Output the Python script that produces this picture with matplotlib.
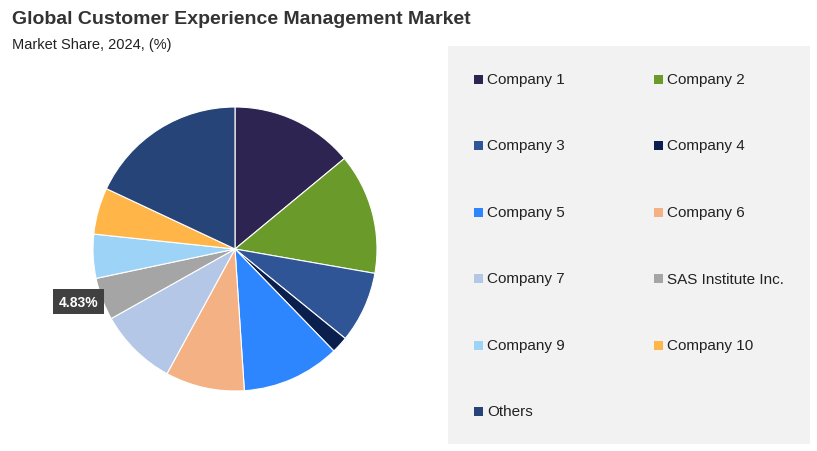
import matplotlib.pyplot as plt
from matplotlib.patches import Rectangle

labels = ["Company 1", "Company 2", "Company 3", "Company 4", "Company 5", "Company 6",
          "Company 7", "SAS Institute Inc.", "Company 9", "Company 10", "Others"]
shares = [14.0, 13.75, 8.1, 1.9, 11.2, 9.0, 8.9, 4.83, 5.0, 5.3, 18.02]
colors = ["#2E2452", "#6A9A2A", "#2F5597", "#0B1F4F", "#2E86FF", "#F4B183",
          "#B4C7E7", "#A5A5A5", "#9DD3F7", "#FFB547", "#264478"]

W, H = 817, 452
fig = plt.figure(figsize=(W / 100, H / 100), dpi=100)
plt.rcParams['font.family'] = ['Liberation Sans', 'DejaVu Sans']

fig.text(12 / W, 1 - 20 / H, "Global Customer Experience Management Market",
         fontsize=14, fontweight='bold', color='#333333', va='center')
fig.text(12 / W, 1 - 45 / H, "Market Share, 2024, (%)", fontsize=10.5, color='#222222', va='center')

# pie
r = 142
ax = fig.add_axes([(235 - r) / W, (H - 250 - r) / H, 2 * r / W, 2 * r / H])
wedges, _ = ax.pie(shares, colors=colors, startangle=90, counterclock=False,
                   wedgeprops=dict(edgecolor='white', linewidth=0.8))
ax.set_aspect('auto')
ax.set_xlim(-1, 1)
ax.set_ylim(-1, 1)
ax.set_axis_off()
ax.text(-1.1, -0.37, "4.83%", fontsize=10, fontweight='bold', color='white',
        ha='center', va='center', clip_on=False,
        bbox=dict(boxstyle='square,pad=0.4', fc='#404040', ec='none'))

# legend panel
fig.patches.append(Rectangle((448 / W, 1 - 445 / H), 362 / W, 398 / H,
                             transform=fig.transFigure, fc='#F2F2F2', ec='none', zorder=0))
for i, (lab, c) in enumerate(zip(labels, colors)):
    col, row = i % 2, i // 2
    x = (474 if col == 0 else 654) / W
    y = 1 - (80 + row * 66.5) / H
    fig.patches.append(Rectangle((x, y - 4.5 / H), 9 / W, 9 / H,
                                 transform=fig.transFigure, fc=c, ec='none', zorder=2))
    fig.text(x + 13 / W, y, lab, fontsize=11, color='#222222', va='center')

fig.savefig("out.png", dpi=100)
